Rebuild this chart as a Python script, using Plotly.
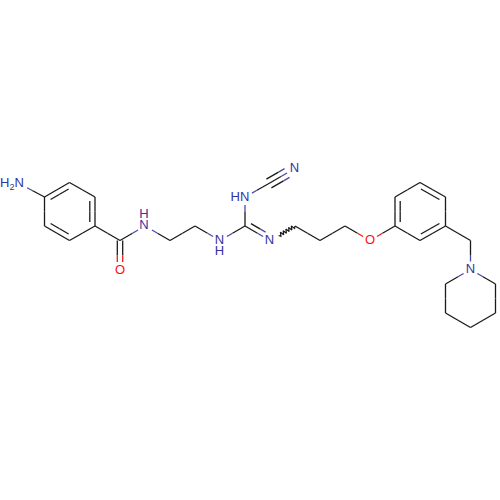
import math
import plotly.graph_objects as go

# Atom names and positions
atom_names = ["c1","c2","c3","c4","c5","c6","N1","C7","O1","N2","c8","c9","N3","C10","N4","C11","N5","N6",
              "c12","c13","c14","O2","r1","r2","r3","r4","r5","r6","c15","N7","p1","p2","p3","p4","p5"]
atom_x = [44.5,69.5,95,95,69.5,44.5,20,120,120,145,170,195,220,245,245,268,294,270,
          295,320,345,370,395,395,420,445.5,445.5,420,470.5,470.5,445.5,445.5,470.5,495.5,495.5]
atom_y = [197,182.5,197,226,240.5,226,184,240.5,270,226,240.5,226,240.5,226,197,184,169,240.5,
          226,240.5,226,240.5,226,197,182.5,197,226,240.5,240.5,269.5,284,313,327.5,313,284]
# Bonds
single_bonds = [("c1","N1"),("c2","c3"),("c4","c5"),("c6","c1"),("c4","C7"),("C7","N2"),("N2","c8"),("c8","c9"),
                ("c9","N3"),("N3","C10"),("C10","N4"),("N4","C11"),("c12","c13"),("c13","c14"),("c14","O2"),
                ("O2","r1"),("r2","r3"),("r4","r5"),("r6","r1"),("r5","c15"),("c15","N7"),("N7","p1"),
                ("p1","p2"),("p2","p3"),("p3","p4"),("p4","p5"),("p5","N7")]
ring_double_bonds = [("c1","c2"),("c3","c4"),("c5","c6"),("r1","r2"),("r3","r4"),("r5","r6")]
ring_members = {"c": ["c1","c2","c3","c4","c5","c6"], "r": ["r1","r2","r3","r4","r5","r6"]}
side_double_bonds = [("C7","O1",0),("C10","N6",1)]
triple_bonds = [("C11","N5")]
wavy_bonds = [("N6","c12")]
# Labels
label_text = ["H<sub>2</sub>N","N","H","O","N","H","HN","N","N","O","N"]
label_x = [12,144,144,120,219.5,219.5,240,294.5,269.5,370,470.5]
label_y = [184,226,214.5,270.5,240.5,252,197.5,169,240.5,240.5,269.5]
label_element = ["N","N","N","O","N","N","N","N","N","O","N"]

pos = {n:(x,y) for n,x,y in zip(atom_names,atom_x,atom_y)}
BLACK, BLUE, RED = "#1a1a1a", "#4a4aa8", "#f01818"
TEXT = {"N":"#33339f","O":"#ff0d0d"}
hetero = {"N":BLUE,"O":RED}
def col(name):
    return hetero.get(name[0],BLACK) if name[0] in "NO" else BLACK
def trim(a):
    return 8.0 if a[0] in "NO" else 0.0
segs = {BLACK:([],[]),BLUE:([],[]),RED:([],[])}
def add(c,p,q):
    segs[c][0].extend([p[0],q[0],None]); segs[c][1].extend([p[1],q[1],None])
def bond(a,b,off=(0,0),shrink=(0,0)):
    pa,pb = pos[a],pos[b]
    d = math.dist(pa,pb); u = ((pb[0]-pa[0])/d,(pb[1]-pa[1])/d)
    ta = max(trim(a),shrink[0]); tb = max(trim(b),shrink[1])
    s = (pa[0]+u[0]*ta+off[0],pa[1]+u[1]*ta+off[1])
    e = (pb[0]-u[0]*tb+off[0],pb[1]-u[1]*tb+off[1])
    m = ((pa[0]+pb[0])/2+off[0],(pa[1]+pb[1])/2+off[1])
    add(col(a),s,m); add(col(b),m,e)
for a,b in single_bonds:
    bond(a,b)
for a,b in ring_double_bonds:
    bond(a,b)
    ms = ring_members[a[0]]
    cx = sum(pos[m][0] for m in ms)/6; cy = sum(pos[m][1] for m in ms)/6
    mx,my = (pos[a][0]+pos[b][0])/2,(pos[a][1]+pos[b][1])/2
    n = math.hypot(cx-mx,cy-my)
    bond(a,b,off=((cx-mx)/n*5.2,(cy-my)/n*5.2),shrink=(4,4))
for a,b,one_side in side_double_bonds:
    pa,pb = pos[a],pos[b]
    d = math.dist(pa,pb); nx,ny = -(pb[1]-pa[1])/d,(pb[0]-pa[0])/d
    if one_side:
        bond(a,b)
        bond(a,b,off=(-nx*5,-ny*5),shrink=(4,0))
    else:
        bond(a,b,off=(nx*2.7,ny*2.7)); bond(a,b,off=(-nx*2.7,-ny*2.7))
for a,b in triple_bonds:
    pa,pb = pos[a],pos[b]
    d = math.dist(pa,pb); nx,ny = -(pb[1]-pa[1])/d,(pb[0]-pa[0])/d
    bond(a,b); bond(a,b,off=(nx*5,ny*5),shrink=(1,0)); bond(a,b,off=(-nx*5,-ny*5),shrink=(1,0))
wx,wy = [],[]
for a,b in wavy_bonds:
    pa,pb = pos[a],pos[b]
    d = math.dist(pa,pb); u = ((pb[0]-pa[0])/d,(pb[1]-pa[1])/d); n=(-u[1],u[0])
    start = 10.0; k = 12
    for i in range(k+1):
        t = start+(d-start)*i/k
        amp = 0 if i in (0,k) else (1.9 if i%2 else -1.9)
        wx.append(pa[0]+u[0]*t+n[0]*amp); wy.append(pa[1]+u[1]*t+n[1]*amp)

fig = go.Figure()
for c,(xs,ys) in segs.items():
    fig.add_trace(go.Scatter(x=xs,y=ys,mode="lines",line=dict(color=c,width=1.3),hoverinfo="skip"))
fig.add_trace(go.Scatter(x=wx,y=wy,mode="lines",line=dict(color=BLACK,width=1.2),hoverinfo="skip"))
for t,x,y,el in zip(label_text,label_x,label_y,label_element):
    fig.add_trace(go.Scatter(x=[x],y=[y],mode="text",text=[t],textposition="middle center",
                             textfont=dict(family="Liberation Sans",size=13,color=TEXT[el]),hoverinfo="skip"))
fig.update_layout(width=500,height=500,margin=dict(l=0,r=0,t=0,b=0),showlegend=False,
                  paper_bgcolor="white",plot_bgcolor="white",
                  xaxis=dict(range=[0,500],visible=False,fixedrange=True),
                  yaxis=dict(range=[500,0],visible=False,fixedrange=True))
fig.write_html("out.html",config={"displayModeBar":False},
               post_script="document.body.style.margin='0';document.documentElement.style.overflow='hidden';")
